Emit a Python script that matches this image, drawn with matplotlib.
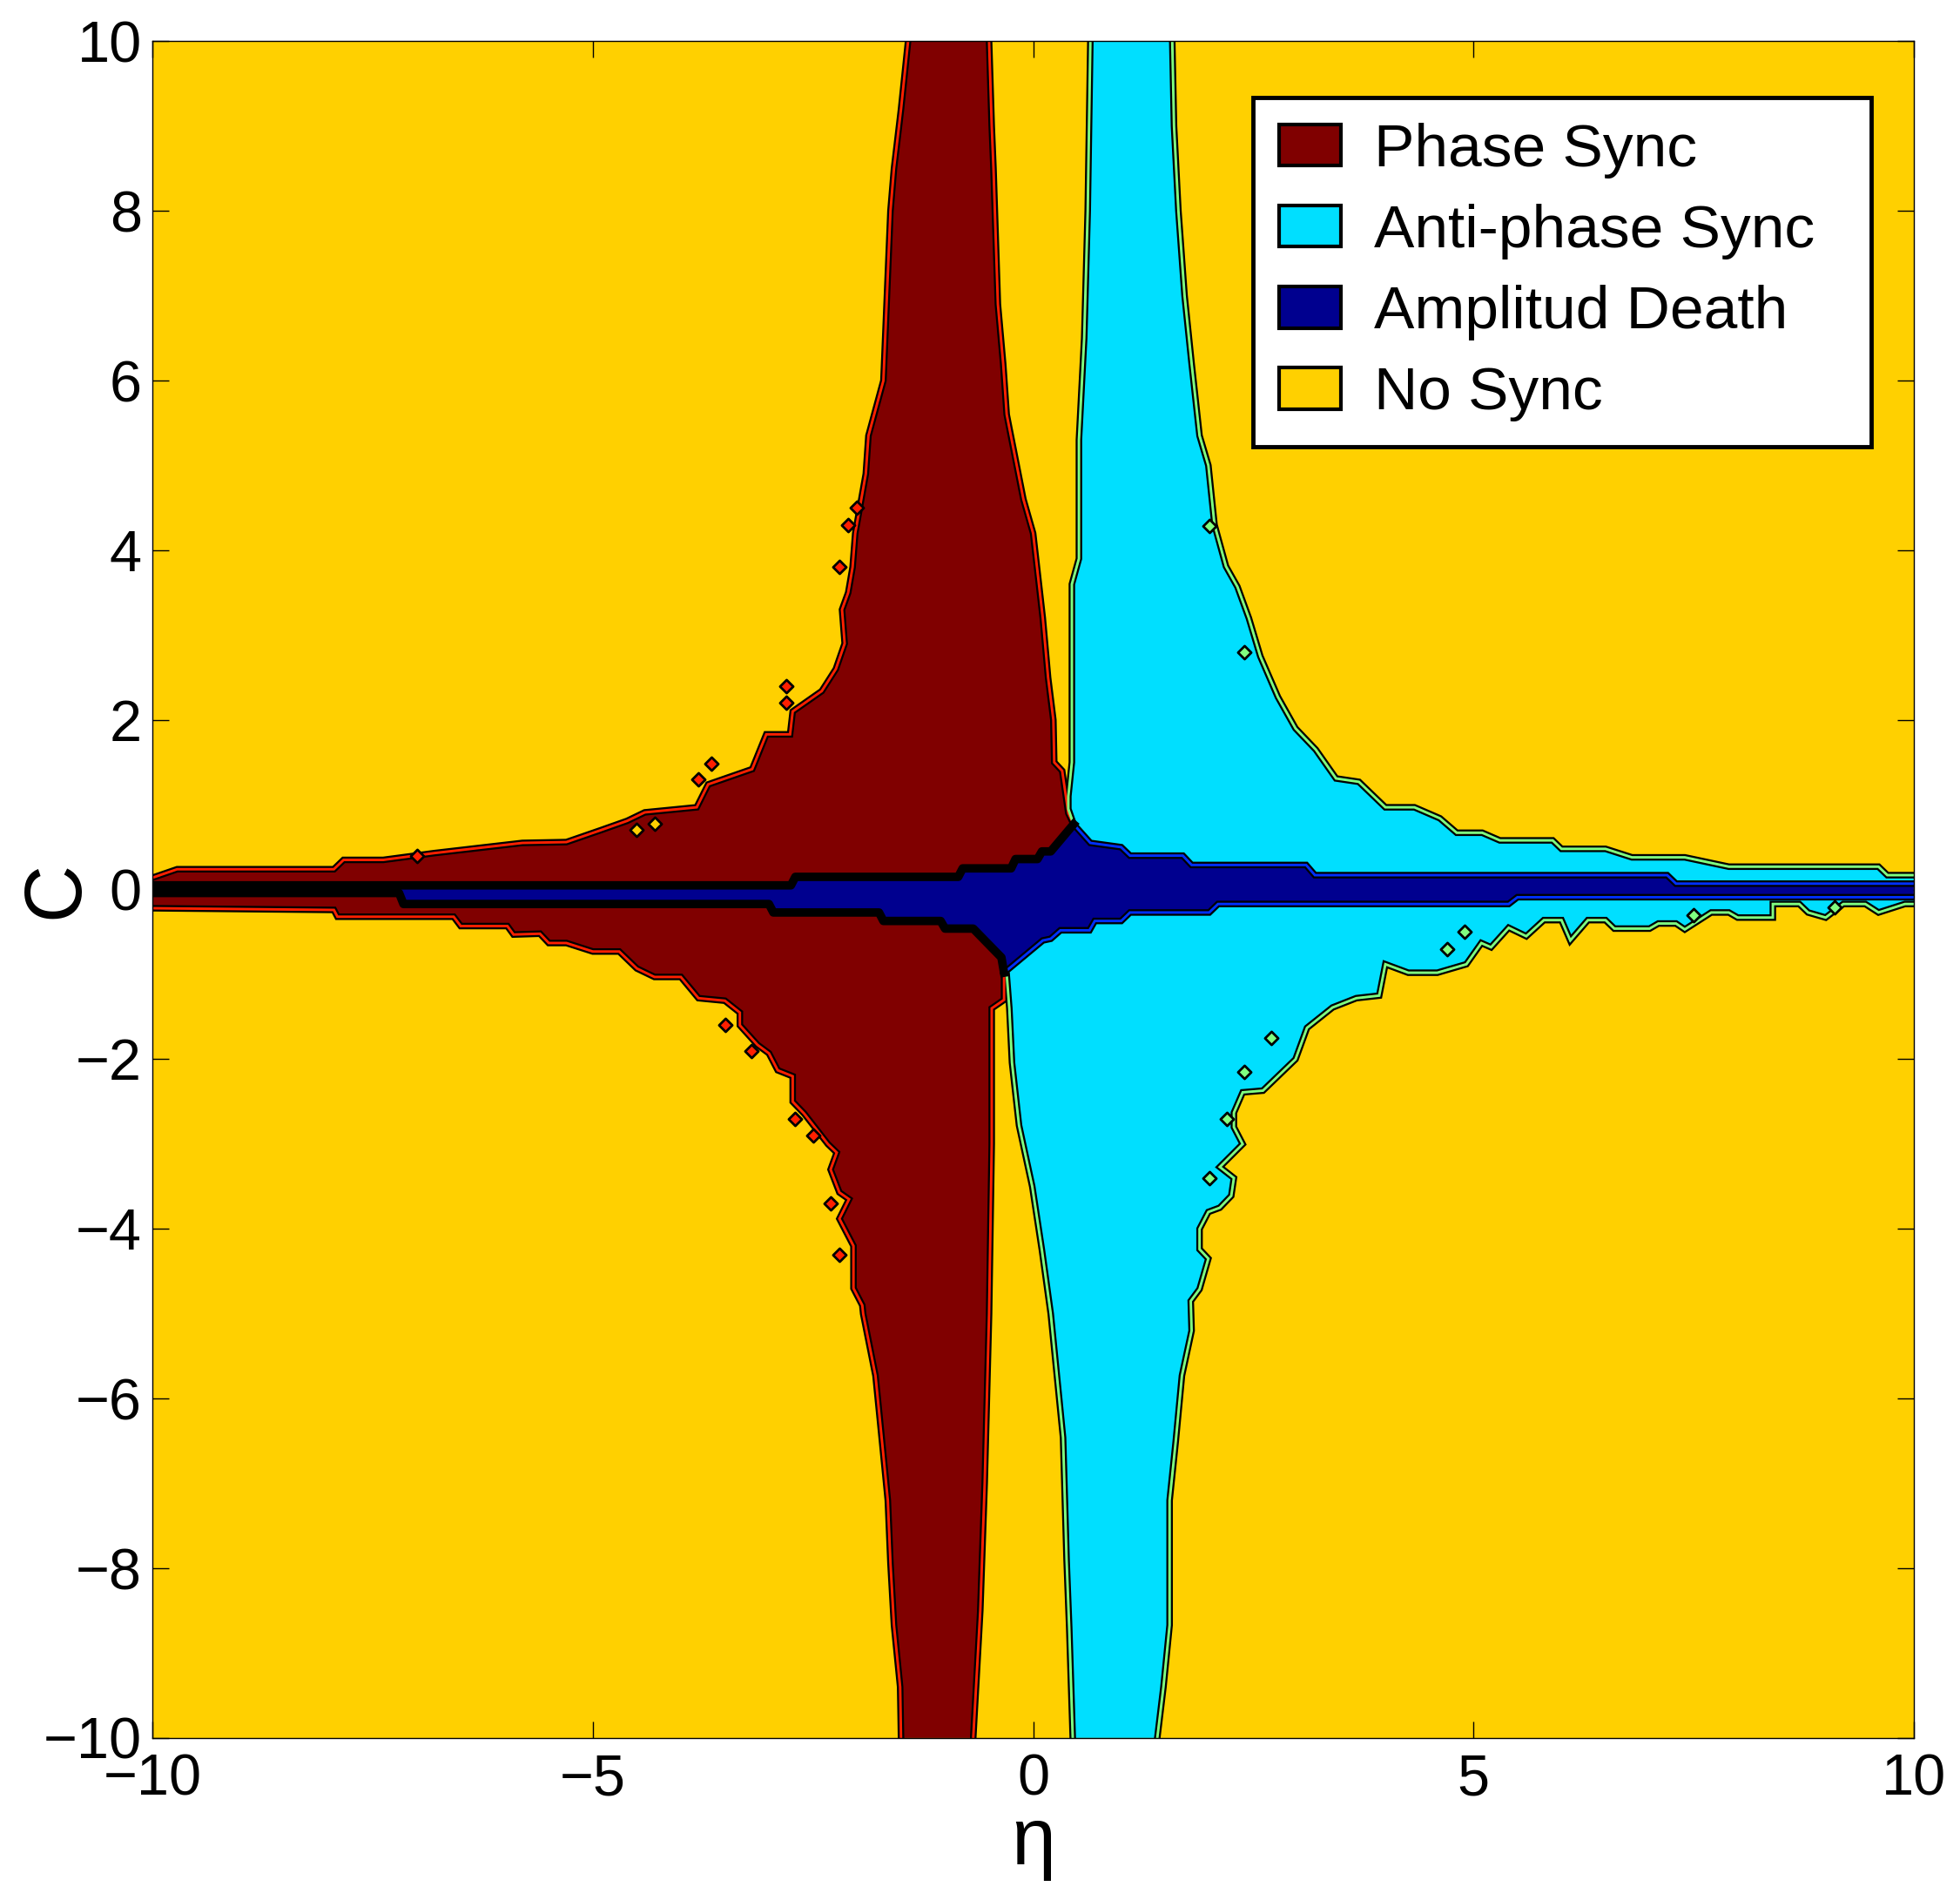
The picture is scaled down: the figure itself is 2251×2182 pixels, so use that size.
import numpy as np
import matplotlib.pyplot as plt
from matplotlib.patches import Patch

plt.rcParams['font.family'] = ['Liberation Sans', 'DejaVu Sans']

# region colours
col_ps = '#800000'
col_aps = '#00DFFF'
col_ad = '#00008F'
col_ns = '#FFD000'

# amplitude death band, top and bottom edge (eta, c), left -> right
ad_top_eta = [-10, -7.2, -2.75, -2.7, -0.85, -0.8, -0.25, -0.2, 0.05, 0.1, 0.2, 0.46,
              0.65, 1.0, 1.1, 1.7, 1.8, 3.1, 3.2, 7.2, 7.3, 10]
ad_top_c = [0.05, 0.05, 0.05, 0.15, 0.15, 0.25, 0.25, 0.36, 0.36, 0.45, 0.45, 0.77,
            0.55, 0.50, 0.40, 0.40, 0.29, 0.29, 0.17, 0.17, 0.07, 0.07]
ad_bot_eta = [-10, -7.2, -7.15, -3.0, -2.95, -1.75, -1.7, -1.05, -1.0, -0.68, -0.36, -0.33,
              0.11, 0.2, 0.31, 0.64, 0.70, 1.0, 1.1, 2.0, 2.1, 5.4, 5.5, 10]
ad_bot_c = [-0.04, -0.04, -0.17, -0.17, -0.27, -0.27, -0.37, -0.37, -0.46, -0.46, -0.80, -0.98,
            -0.60, -0.58, -0.48, -0.48, -0.37, -0.37, -0.27, -0.27, -0.17, -0.17, -0.09, -0.09]
peak = 11   # index of the AD top tip
tip = 11    # index of the AD bottom tip

# phase sync, c > 0
ps_up_left_eta = [-1.42, -1.50, -1.58, -1.62, -1.66, -1.70, -1.87, -1.90, -2.02, -2.05, -2.10,
                  -2.17, -2.14, -2.24, -2.40, -2.73, -2.76, -3.03, -3.19, -3.69, -3.82, -4.41,
                  -4.61, -4.91, -5.30, -5.80, -6.80, -7.38, -7.83, -7.94, -9.72, -10.0]
ps_up_left_c = [10, 9.2, 8.5, 8.0, 7.0, 6.0, 5.35, 4.9, 4.2, 3.8, 3.5,
                3.3, 2.9, 2.6, 2.34, 2.10, 1.83, 1.83, 1.42, 1.24, 0.97, 0.91,
                0.81, 0.70, 0.56, 0.55, 0.43, 0.35, 0.35, 0.24, 0.24, 0.14]
ps_up_right_eta = [0.46, 0.40, 0.33, 0.24, 0.23, 0.17, 0.11, 0.0, -0.11, -0.30, -0.34, -0.40,
                   -0.45, -0.47, -0.50]
ps_up_right_c = [0.77, 0.90, 1.40, 1.50, 2.0, 2.5, 3.2, 4.2, 4.6, 5.6, 6.2, 6.9,
                 8.5, 9.0, 10]

# phase sync, c < 0
ps_dn_right_eta = [-0.33, -0.33, -0.47, -0.47, -0.50, -0.55, -0.60, -0.68]
ps_dn_right_c = [-0.98, -1.30, -1.40, -3.0, -5.0, -7.0, -8.5, -10]
ps_dn_left_eta = [-1.50, -1.51, -1.58, -1.62, -1.65, -1.72, -1.79, -1.93, -1.94, -2.04,
                  -2.04, -2.20, -2.09, -2.20, -2.30, -2.23, -2.33, -2.60, -2.73, -2.73,
                  -2.90, -3.00, -3.13, -3.33, -3.33, -3.50, -3.80, -4.00, -4.30, -4.50,
                  -4.70, -5.00, -5.30, -5.50, -5.60, -5.90, -5.97, -6.50, -6.58, -7.90,
                  -7.94, -10.0]
ps_dn_left_c = [-10, -9.4, -8.67, -7.94, -7.2, -6.46, -5.73, -5.0, -4.9, -4.7,
                -4.2, -3.88, -3.65, -3.57, -3.30, -3.10, -3.0, -2.64, -2.5, -2.2,
                -2.13, -1.93, -1.83, -1.60, -1.45, -1.31, -1.28, -1.03, -1.03, -0.93,
                -0.73, -0.73, -0.63, -0.63, -0.52, -0.53, -0.43, -0.43, -0.32, -0.32,
                -0.24, -0.22]

# anti-phase sync, c > 0
aps_up_left_eta = [0.46, 0.40, 0.40, 0.44, 0.44, 0.52, 0.52, 0.58, 0.62, 0.65]
aps_up_left_c = [0.77, 0.95, 1.10, 1.50, 3.60, 3.90, 5.30, 6.50, 8.0, 10]
aps_up_right_eta = [1.58, 1.60, 1.65, 1.72, 1.80, 1.89, 1.99, 2.06, 2.19, 2.32, 2.45, 2.58,
                    2.78, 2.98, 3.21, 3.44, 3.70, 4.00, 4.33, 4.62, 4.81, 5.10, 5.30, 5.90,
                    6.00, 6.50, 6.80, 7.40, 7.90, 9.60, 9.70, 10.0]
aps_up_right_c = [10, 9.0, 8.0, 7.0, 6.2, 5.35, 5.0, 4.3, 3.81, 3.57, 3.2, 2.75,
                  2.27, 1.9, 1.65, 1.31, 1.27, 0.97, 0.97, 0.84, 0.67, 0.67, 0.58, 0.58,
                  0.48, 0.48, 0.38, 0.38, 0.27, 0.27, 0.17, 0.17]

# anti-phase sync, c < 0
aps_dn_right_eta = [10.0, 9.9, 9.6, 9.45, 9.2, 9.0, 8.8, 8.7, 8.4, 8.4,
                    8.0, 7.9, 7.7, 7.4, 7.3, 7.1, 7.0, 6.6, 6.5, 6.3,
                    6.1, 6.0, 5.8, 5.6, 5.4, 5.2, 5.09, 4.92, 4.59, 4.26,
                    4.0, 3.93, 3.67, 3.40, 3.11, 2.98, 2.61, 2.38, 2.28, 2.28,
                    2.38, 2.12, 2.28, 2.25, 2.12, 1.99, 1.89, 1.89, 1.99, 1.89,
                    1.79, 1.80, 1.69, 1.62, 1.55, 1.55, 1.48, 1.41]
aps_dn_right_c = [-0.17, -0.17, -0.27, -0.17, -0.17, -0.33, -0.27, -0.17, -0.17, -0.33,
                  -0.33, -0.27, -0.27, -0.47, -0.40, -0.40, -0.46, -0.46, -0.36, -0.36,
                  -0.60, -0.36, -0.36, -0.55, -0.45, -0.68, -0.63, -0.88, -0.98, -0.98,
                  -0.88, -1.25, -1.28, -1.39, -1.63, -2.0, -2.37, -2.39, -2.63, -2.8,
                  -3.0, -3.27, -3.4, -3.61, -3.75, -3.8, -4.0, -4.24, -4.35, -4.71,
                  -4.85, -5.2, -5.73, -6.5, -7.2, -8.67, -9.4, -10]
aps_dn_left_eta = [0.45, 0.41, 0.38, 0.34, 0.27, 0.20, 0.10, -0.01, -0.16, -0.24, -0.27, -0.30, -0.33]
aps_dn_left_c = [-10, -8.7, -7.9, -6.46, -5.73, -5.0, -4.25, -3.5, -2.78, -2.04, -1.4, -1.0, -0.98]

# small isolated cells
ps_isl_eta = [-2.0, -2.1, -2.2, -2.8, -2.8, -3.65, -3.8, -7.0, -3.5, -3.2, -2.7, -2.5, -2.3, -2.2]
ps_isl_c = [4.5, 4.3, 3.8, 2.4, 2.2, 1.48, 1.3, 0.4, -1.6, -1.9, -2.7, -2.9, -3.7, -4.3]
ns_isl_eta = [-4.3, -4.5]
ns_isl_c = [0.78, 0.7]
aps_isl_eta = [2.0, 2.4, 4.9, 4.7, 2.7, 2.4, 2.2, 2.0, 7.5, 9.1]
aps_isl_c = [4.29, 2.8, -0.5, -0.7, -1.75, -2.15, -2.7, -3.4, -0.30, -0.21]

labels = ['Phase Sync', 'Anti-phase Sync', 'Amplitud Death', 'No Sync']


def edge(ax, x, y, col, lw=5.4):
    ax.plot(x, y, color='k', lw=lw, solid_joinstyle='miter', zorder=4)
    ax.plot(x, y, color=col, lw=2.1, solid_joinstyle='miter', zorder=5)


fig = plt.figure(figsize=(22.51, 21.82), dpi=100)
ax = fig.add_axes([0.0778, 0.0853, 0.8986, 0.8930])
ax.set_facecolor(col_ns)

# filled regions
ax.fill(ps_up_left_eta + ad_top_eta[:peak + 1] + ps_up_right_eta,
        ps_up_left_c + ad_top_c[:peak + 1] + ps_up_right_c,
        color=col_ps, lw=0, zorder=2)
ax.fill(ad_bot_eta[:tip + 1] + ps_dn_right_eta + ps_dn_left_eta,
        ad_bot_c[:tip + 1] + ps_dn_right_c + ps_dn_left_c,
        color=col_ps, lw=0, zorder=2)
ax.fill(aps_up_left_eta + aps_up_right_eta + ad_top_eta[peak:][::-1],
        aps_up_left_c + aps_up_right_c + ad_top_c[peak:][::-1],
        color=col_aps, lw=0, zorder=2)
ax.fill(ad_bot_eta[tip:] + aps_dn_right_eta + aps_dn_left_eta,
        ad_bot_c[tip:] + aps_dn_right_c + aps_dn_left_c,
        color=col_aps, lw=0, zorder=2)
ax.fill(ad_top_eta + ad_bot_eta[::-1], ad_top_c + ad_bot_c[::-1],
        color=col_ad, lw=0, zorder=3)

# contour lines
red_line = '#FF2000'
green_line = '#80FF80'
blue_line = '#0030FF'
edge(ax, ps_up_left_eta, ps_up_left_c, red_line)
edge(ax, ps_up_right_eta, ps_up_right_c, red_line)
edge(ax, ps_dn_left_eta, ps_dn_left_c, red_line)
edge(ax, ps_dn_right_eta, ps_dn_right_c, red_line)
edge(ax, aps_up_left_eta, aps_up_left_c, green_line)
edge(ax, aps_up_right_eta, aps_up_right_c, green_line)
edge(ax, aps_dn_left_eta, aps_dn_left_c, green_line)
edge(ax, aps_dn_right_eta, aps_dn_right_c, green_line)
edge(ax, ad_top_eta[peak:], ad_top_c[peak:], blue_line)
edge(ax, ad_bot_eta[tip:], ad_bot_c[tip:], blue_line)
ax.plot(ad_top_eta[:peak + 1], ad_top_c[:peak + 1], color='k', lw=7, zorder=6)
ax.plot(ad_bot_eta[:tip + 1], ad_bot_c[:tip + 1], color='k', lw=7, zorder=6)

# islands
ax.scatter(ps_isl_eta, ps_isl_c, s=60, marker='D', facecolor=red_line,
           edgecolor='k', linewidth=2, zorder=7)
ax.scatter(ns_isl_eta, ns_isl_c, s=60, marker='D', facecolor=col_ns,
           edgecolor='k', linewidth=2, zorder=7)
ax.scatter(aps_isl_eta, aps_isl_c, s=60, marker='D', facecolor=green_line,
           edgecolor='k', linewidth=2, zorder=7)

ax.set_xlim(-10, 10)
ax.set_ylim(-10, 10)
ax.set_xticks([-10, -5, 0, 5, 10])
ax.set_yticks(np.arange(-10, 11, 2))
ax.tick_params(direction='in', length=14, width=1.0, labelsize=48, pad=9,
               top=True, right=True)
ax.tick_params(axis='x', pad=13)
for s in ax.spines.values():
    s.set_linewidth(1.0)
    s.set_zorder(10)

ax.set_xlabel('η', fontsize=66, va='center')
ax.xaxis.set_label_coords(0.5, -0.062)
ax.set_ylabel('C', fontsize=66, va='center', rotation=90)
ax.yaxis.set_label_coords(-0.0545, 0.5)

handles = [Patch(facecolor=c, edgecolor='k', lw=3) for c in (col_ps, col_aps, col_ad, col_ns)]
leg = ax.legend(handles, labels, loc='upper left',
                bbox_to_anchor=(0.625, 0.764, 0.351, 0.203), mode='expand',
                fontsize=50, frameon=True, fancybox=False, framealpha=1,
                edgecolor='k', handlelength=1.03, handleheight=0.68,
                handletextpad=0.55, labelspacing=0.42, borderpad=0.42,
                borderaxespad=0)
leg.get_frame().set_linewidth(3.5)
leg.set_zorder(20)

fig.savefig('out.png', dpi=100, facecolor='white')
